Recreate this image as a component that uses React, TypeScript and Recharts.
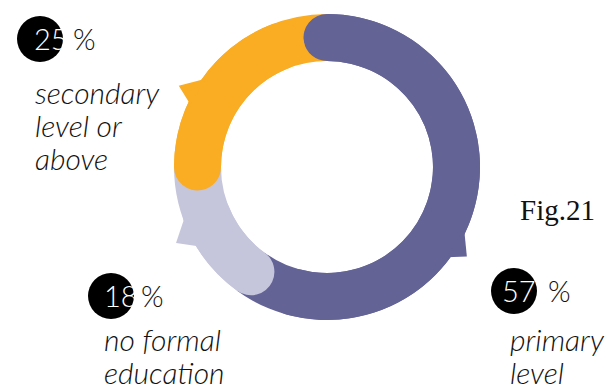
import { PieChart, Pie, Cell } from 'recharts';

const categories = ['primary level', 'no formal education', 'secondary level or above'];
// arc lengths as drawn in the picture (measured on the ring)
const arcShares = [60, 15, 25];
// the figures printed beside the ring
const percentText = ['57', '18', '25'];
const labelLines = [
  ['primary', 'level'],
  ['no formal', 'education'],
  ['secondary', 'level or', 'above'],
];

const data = categories.map((name, i) => ({ name, value: arcShares[i] }));

const colors = ['#646396', '#C5C6DC', '#FAAC23'];

const CX = 327;
const CY = 167;
const INNER = 106;
const OUTER = 153;
const HALF = (OUTER - INNER) / 2;
// angle that a round cap of half-thickness takes up at mid radius
const CAP = Math.asin(HALF / (INNER + HALF)) * 180 / Math.PI;
const RAD = Math.PI / 180;

// little pointer flags on the outer edge, per slice
const tails = [
  { from: -24, to: -37, tip: -32.6, r: 166 },
  { from: -161, to: -148, tip: -153.3, r: 169 },
  { from: 144, to: 155.5, tip: 151.3, r: 169 },
];

// where each callout sits
const callouts = [
  { bx: 514, by: 291, nx: 502, px: 548, tx: 510, ty: 351 },
  { bx: 111, by: 296, nx: 104, px: 141, tx: 104, ty: 351 },
  { bx: 40, by: 39, nx: 34, px: 73, tx: 35, ty: 104 },
];

const sans = 'Lato, "Open Sans", sans-serif';

const renderCallout = (props: any) => {
  const { index } = props;
  const cx = props.cx ?? CX;
  const cy = props.cy ?? CY;
  const t = tails[index];
  const c = callouts[index];
  const pt = (a: number, r: number) => `${cx + r * Math.cos(-a * RAD)},${cy + r * Math.sin(-a * RAD)}`;
  return (
    <g key={`callout-${index}`}>
      <polygon
        points={`${pt(t.from, OUTER - 3)} ${pt(t.tip, t.r)} ${pt(t.to, OUTER - 3)}`}
        fill={colors[index]}
      />
      <circle cx={c.bx} cy={c.by} r={23} fill="#000" />
      <text x={c.nx} y={c.by + 11} fill="#fff" fontFamily={sans} fontSize={29} fontWeight={300}>
        {percentText[index]}
      </text>
      <text x={c.px} y={c.by + 11} fill="#111" fontFamily={sans} fontSize={29} fontWeight={300}>
        %
      </text>
      {labelLines[index].map((line, j) => (
        <text
          key={j}
          x={c.tx}
          y={c.ty + j * 33}
          fill="#111"
          fontFamily={sans}
          fontSize={30}
          fontStyle="italic"
          fontWeight={300}
        >
          {line}
        </text>
      ))}
    </g>
  );
};

export default function App() {
  return (
    <div style={{ position: 'absolute', left: 0, top: 0, width: 612, height: 390, background: '#fff' }}>
      <PieChart width={612} height={390} margin={{ top: 0, right: 0, bottom: 0, left: 0 }}>
        <Pie
          data={data}
          dataKey="value"
          cx={CX}
          cy={CY}
          innerRadius={INNER}
          outerRadius={OUTER}
          startAngle={90}
          endAngle={-270}
          stroke="none"
          label={renderCallout}
          labelLine={false}
          isAnimationActive={false}
        >
          {data.map((d, i) => (
            <Cell key={d.name} fill={colors[i]} />
          ))}
        </Pie>
        {/* same slices shifted back by one cap, rounded, so each start overlaps the previous slice */}
        <Pie
          data={data}
          dataKey="value"
          cx={CX}
          cy={CY}
          innerRadius={INNER}
          outerRadius={OUTER}
          startAngle={90 + CAP}
          endAngle={-270 + CAP}
          cornerRadius={HALF}
          stroke="none"
          isAnimationActive={false}
        >
          {data.map((d, i) => (
            <Cell key={d.name} fill={colors[i]} />
          ))}
        </Pie>
        <text x={520} y={220} fontFamily='"Liberation Serif", "DejaVu Serif", serif' fontSize={29} fill="#111">
          Fig.21
        </text>
      </PieChart>
    </div>
  );
}
